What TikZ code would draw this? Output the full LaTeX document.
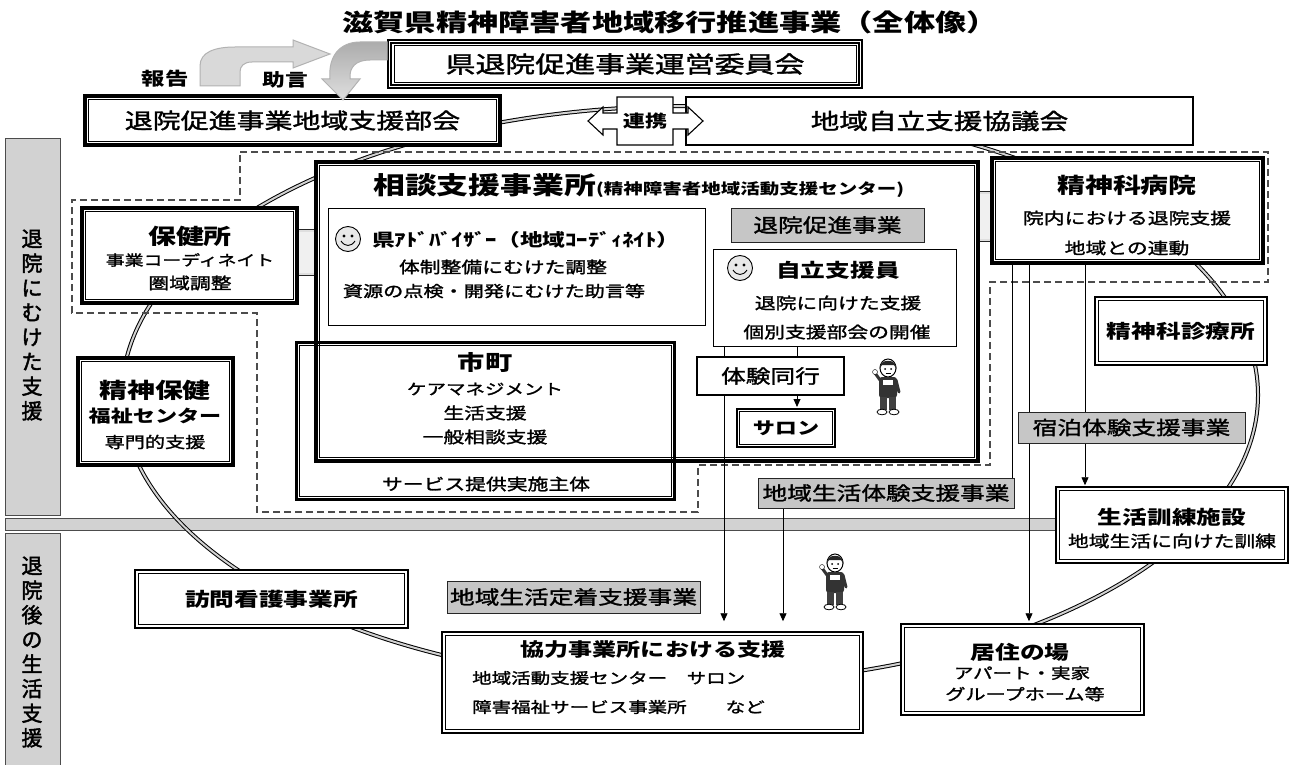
\documentclass[tikz,border=0pt]{standalone}
\usepackage{fontspec}
\usepackage{graphicx}
\setmainfont{Noto Sans CJK JP}
\newfontfamily\jw{Noto Sans CJK JP}[FakeStretch=1.3]
\newfontfamily\jm{Noto Sans CJK JP}[FakeStretch=1.3, FakeBold=1.6]
\newfontfamily\jn{Noto Sans CJK JP}[FakeBold=2]
\usetikzlibrary{arrows.meta,calc}

\newcommand\fsz[1]{\fontsize{#1}{#1}\selectfont}
% box node from its corners: style, name, x1, y1, x2, y2
\newcommand\mkbox[6]{\node[#1, minimum width={#5-#3}, minimum height={#6-#4}] (#2) at ({(#3+#5)/2},{(#4+#6)/2}) {};}
% second, inner outline of a framed box
\newcommand\innerframe[3]{\draw[line width=#3] ([shift={(#2,#2)}]#1.north west) rectangle ([shift={(-#2,-#2)}]#1.south east);}
\newcommand\smiley[2]{%
  \begin{scope}[shift={(#1,#2)}]
    \draw[fill=gray!18, line width=0.9] (0,0) circle[radius=12.5];
    \fill (-4,-3) circle[radius=1.6];
    \fill (4,-3) circle[radius=1.6];
    \draw[line width=0.9] (-7,2) .. controls (-3,8) and (3,8) .. (7,2);
  \end{scope}}
\newcommand\person[2]{%
  \begin{scope}[shift={(#1,#2)}]
    \draw[fill=white, line width=1] (0,0) ellipse [x radius=8, y radius=9];
    \fill[black!85] (-8.5,1) .. controls (-9,-10) and (9,-10) .. (8.5,1) -- (6,-3) -- (-6,-3) -- cycle;
    \fill (-3,1) circle[radius=1];
    \fill (3,1) circle[radius=1];
    \draw (-2.5,5) -- (2.5,5);
    \fill[black!80, rounded corners=3] (-9,9) rectangle (9,30);
    \fill[white] (-5,12) rectangle (5,17);
    \draw[black!80, line width=3, line cap=round] (-8,12) -- (-13,5);
    \draw[fill=white] (-13,4) circle[radius=2.5];
    \draw[black!80, line width=3, line cap=round] (8,12) -- (11,24);
    \fill[black!75] (-8,29) rectangle (-1,42);
    \fill[black!75] (1,29) rectangle (8,42);
    \draw[fill=white, line width=0.8] (-6,44) ellipse [x radius=5, y radius=2.8];
    \draw[fill=white, line width=0.8] (6,44) ellipse [x radius=5, y radius=2.8];
  \end{scope}}

\begin{document}
\begin{tikzpicture}[x=1pt,y=-1pt,
  every node/.style={inner sep=0pt},
  boxf/.style={draw=black, fill=white, line width=#1},
  boxf/.default=1,
  openbox/.style={draw=black, line width=#1},
  gbox/.style={draw=black!85, fill=gray!45, line width=1},
  band/.style={draw=black!70, fill=gray!35, line width=0.8},
  ring/.style={draw=black, line width=1, double=gray!35, double distance=2},
  ringthin/.style={draw=black!85, line width=0.8, double=gray!25, double distance=1.5},
  dashline/.style={draw=black!70, line width=1.2, dash pattern=on 7pt off 4pt},
  link/.style={draw=black, line width=0.9},
  arr/.style={link, -{Triangle[length=8pt,width=7pt]}},
  txt/.style={font=\jm, text=black},
]
\fill[white] (0,0) rectangle (1292,765);
\useasboundingbox (0,0) rectangle (1292,765);

% side bands and the dividing strip
\mkbox{band}{bandA}{5}{138}{60}{515}
\mkbox{band}{bandB}{5}{533}{60}{775}
\mkbox{band}{strip}{5}{518}{1056}{530}

% the ring linking all the partners
\draw[ring] (690,395) ellipse [x radius=568, y radius=289];

% area of the programme
\draw[dashline] (240,152) -- (1268,152) -- (1268,282) -- (990,282) -- (990,465)
  -- (698,465) -- (698,512) -- (257,512) -- (257,313) -- (72,313) -- (72,200)
  -- (240,200) -- cycle;

% bridges from the consultation office
\mkbox{draw=none, fill=gray!12}{brL}{297}{231}{316}{274}
\draw[ringthin] (brL.north west) -- (brL.north east);
\draw[ringthin] (brL.south west) -- (brL.south east);
\mkbox{draw=none, fill=gray!12}{brR}{978}{193}{992}{240}
\draw[ringthin] (brR.north west) -- (brR.north east);
\draw[ringthin] (brR.south west) -- (brR.south east);

% consultation office and its contents
\mkbox{boxf=3.5}{soudan}{316}{162}{978}{461}
\innerframe{soudan}{5}{1}
\mkbox{boxf=1}{adv}{328}{208}{705}{325}
\mkbox{gbox}{taiin}{731}{208}{924}{242}
\mkbox{boxf=1}{jiritsu}{713}{249}{956}{346}

% x positions of the vertical connectors
\coordinate (xa) at (724,0);
\coordinate (xb) at (797,0);
\coordinate (xc) at (783,0);
\coordinate (xd) at (1012,0);
\coordinate (xe) at (1029,0);
\coordinate (xf) at (1085,0);

\mkbox{boxf=1.5}{kyoryoku}{442}{632}{863}{733}
\innerframe{kyoryoku}{4}{1}
\mkbox{boxf=1.5}{kyoju}{901}{624}{1144}{715}
\innerframe{kyoju}{4}{1}
\mkbox{boxf=1.5}{kunren}{1056}{487}{1288}{563}
\innerframe{kunren}{4}{1}
\mkbox{gbox}{chiiki}{758}{478}{1014}{508}
\mkbox{boxf=4}{byoin}{992}{158}{1263}{263}
\innerframe{byoin}{5.5}{1}

% long connector first, so the experience box covers it
\draw[arr, shorten >=10pt] (jiritsu.south -| xa) -- (kyoryoku.north -| xa);
\mkbox{boxf=1.2}{taiken}{697}{357}{844}{395}
\mkbox{boxf=2}{salon}{737}{409}{835}{447}
\innerframe{salon}{3.5}{0.8}
\draw[link] (jiritsu.south -| xb) -- (taiken.north -| xb);
\draw[arr, shorten >=1pt] (taiken.south -| xb) -- (salon.north -| xb);
\draw[arr, shorten >=10pt] (chiiki.south -| xc) -- (kyoryoku.north -| xc);
\draw[link] (byoin.south -| xd) -- (chiiki.north -| xd);
\draw[arr, shorten >=2pt] (byoin.south -| xe) -- (kyoju.north -| xe);
\draw[arr, shorten >=1pt] (byoin.south -| xf) -- (kunren.north -| xf);

\mkbox{openbox=3}{shicho}{296}{342}{674}{499}
\innerframe{shicho}{4.5}{1}

% surrounding organisations
\mkbox{boxf=3.5}{hoken}{82}{208}{297}{303}
\innerframe{hoken}{5}{1}
\mkbox{boxf=3.5}{center}{78}{358}{233}{465}
\innerframe{center}{5}{1}
\mkbox{boxf=1.5}{shinryo}{1095}{297}{1267}{365}
\innerframe{shinryo}{4}{1}
\mkbox{gbox}{shukuhaku}{1018}{412}{1245}{443}
\mkbox{gbox}{teichaku}{447}{581}{700}{613}
\mkbox{boxf=1.5}{houmon}{135}{570}{408}{628}
\innerframe{houmon}{4}{1}

% councils at the top
\mkbox{boxf=3.5}{bukai}{85}{96}{500}{145}
\innerframe{bukai}{5}{1}
\mkbox{boxf=1.8}{kyogi}{686}{97}{1193}{145}
\mkbox{boxf=1.2}{iin}{388}{40}{862}{88}
\innerframe{iin}{3.5}{2.2}
\innerframe{iin}{6.5}{0.8}
\draw[fill=white, line width=1.1] (617,97) -- (673,97) -- (673,113) -- (688,113)
  -- (688,107) -- (703,121) -- (688,135) -- (688,129) -- (673,129) -- (673,145)
  -- (617,145) -- (617,129) -- (603,129) -- (603,135) -- (588,121) -- (603,107)
  -- (603,113) -- (617,113) -- cycle;

% report / advice arrows
\draw[fill=gray!30, draw=gray!60, line width=1] (200,86) -- (200,66)
  .. controls (200,52) and (215,47) .. (235,47) -- (293,47) -- (293,40)
  -- (330,54) -- (293,68) -- (293,62) -- (252,62)
  .. controls (244,62) and (240,66) .. (240,72) -- (240,86) -- cycle;
\draw[draw=gray!60, line width=1, top color=gray!65, bottom color=gray!25]
  (387,42) -- (360,42) .. controls (340,42) and (328,56) .. (330,79)
  -- (322,79) -- (343,100) -- (360,79) -- (350,79)
  .. controls (349,67) and (356,60) .. (370,60) -- (387,60) -- cycle;

% texts
\node[txt, font=\jw\bfseries\fsz{24}] (title) at (670,22) {滋賀県精神障害者地域移行推進事業（全体像）};
\node[txt, font=\jw\bfseries\fsz{18}] (hokoku) at (165,79) {報告};
\node[txt, font=\jw\bfseries\fsz{17.5}] (jogen) at (285,80) {助言};
\node[txt, font=\jm\fsz{23}] (iinT) at (iin) {県退院促進事業運営委員会};
\node[txt, font=\jm\fsz{21.5}] (bukaiT) at (bukai) {退院促進事業地域支援部会};
\node[txt, font=\jm\fsz{22}] (kyogiT) at (kyogi) {地域自立支援協議会};
\node[txt, font=\jw\bfseries\fsz{17}] (renkeiT) at (645,121) {連携};

\node[txt, font={\jn\fontsize{21}{24.6}\selectfont}, align=center] (bandAT) at (32,325) {退\\院\\に\\む\\け\\た\\支\\援};
\node[txt, font={\jn\fontsize{21}{24.6}\selectfont}, align=center] (bandBT) at (32,652) {退\\院\\後\\の\\生\\活\\支\\援};

\node[txt, anchor=west] (soudanT) at (373,186) {{\jw\bfseries\fsz{24.5}相談支援事業所}{\jw\bfseries\fsz{15}(精神障害者地域活動支援センター)}};
\smiley{348}{239}
\node[txt, anchor=west, font=\jw\bfseries\fsz{17.5}] (advT) at (372,240) {県ｱﾄﾞﾊﾞｲｻﾞｰ（地域ｺｰﾃﾞｨﾈｲﾄ）};
\node[txt, font=\jm\fsz{16}] (advA) at (503,267) {体制整備にむけた調整};
\node[txt, font=\jm\fsz{15.5}] (advB) at (494,291) {資源の点検・開発にむけた助言等};
\node[txt, font=\jm\fsz{19}] (taiinT) at (taiin) {退院促進事業};
\smiley{740}{268}
\node[txt, font=\jw\bfseries\fsz{19}] (jiritsuT) at (838,270) {自立支援員};
\node[txt, font=\jm\fsz{16}] (jiritsuA) at (838,303) {退院に向けた支援};
\node[txt, font=\jm\fsz{16}] (jiritsuB) at (837,332) {個別支援部会の開催};
\node[txt, font=\jm\fsz{19}] (taikenT) at (taiken) {体験同行};
\node[txt, font=\jw\bfseries\fsz{17}] (salonT) at (salon) {サロン};

\node[txt, font=\jw\bfseries\fsz{21}] (shichoT) at (485,362) {市町};
\node[txt, font=\jm\fsz{15}] (shichoA) at (485,389) {ケアマネジメント};
\node[txt, font=\jm\fsz{16}] (shichoB) at (485,413) {生活支援};
\node[txt, font=\jm\fsz{16}] (shichoC) at (485,437) {一般相談支援};
\node[txt, font=\jm\fsz{16}] (shichoD) at (486,484) {サービス提供実施主体};

\node[txt, font=\jw\bfseries\fsz{21.5}] (hokenT) at (190,236) {保健所};
\node[txt, font=\jm\fsz{14.5}] (hokenA) at (190,260) {事業コーディネイト};
\node[txt, font=\jm\fsz{16}] (hokenB) at (190,283) {圏域調整};

\node[txt, font=\jw\bfseries\fsz{21.5}] (centerT) at (155,390) {精神保健};
\node[txt, font=\jw\bfseries\fsz{17}] (centerA) at (155,416) {福祉センター};
\node[txt, font=\jm\fsz{15.5}] (centerB) at (155,442) {専門的支援};

\node[txt, font=\jw\bfseries\fsz{21.5}] (byoinT) at (1127,185) {精神科病院};
\node[txt, font=\jm\fsz{16}] (byoinA) at (1127,218) {院内における退院支援};
\node[txt, font=\jm\fsz{16}] (byoinB) at (1127,248) {地域との連動};
\node[txt, font=\jw\bfseries\fsz{19}] (shinryoT) at (shinryo) {精神科診療所};
\node[txt, font=\jm\fsz{19}] (shukuhakuT) at (shukuhaku) {宿泊体験支援事業};
\node[txt, font=\jw\bfseries\fsz{19}] (kunrenT) at (1172,517) {生活訓練施設};
\node[txt, font=\jm\fsz{16}] (kunrenA) at (1172,541) {地域生活に向けた訓練};
\node[txt, font=\jm\fsz{19}] (chiikiT) at (chiiki) {地域生活体験支援事業};

\node[txt, font=\jw\bfseries\fsz{19}] (kyojuT) at (1020,652) {居住の場};
\node[txt, font=\jm\fsz{15}] (kyojuA) at (1022,673) {アパート・実家};
\node[txt, font=\jm\fsz{15.5}] (kyojuB) at (1025,694) {グループホーム等};
\node[txt, font=\jw\bfseries\fsz{18.5}] (kyoryokuT) at (653,650) {協力事業所における支援};
\node[txt, anchor=west, font=\jm\fsz{15}] (kyoryokuA) at (472,678) {地域活動支援センター　サロン};
\node[txt, anchor=west, font=\jm\fsz{15}] (kyoryokuB) at (472,707) {障害福祉サービス事業所　　など};
\node[txt, font=\jm\fsz{19}] (teichakuT) at (teichaku) {地域生活定着支援事業};
\node[txt, font=\jw\bfseries\fsz{19}] (houmonT) at (houmon) {訪問看護事業所};

% the two walking figures
\person{888}{368}
\person{835}{563}
\end{tikzpicture}
\end{document}
